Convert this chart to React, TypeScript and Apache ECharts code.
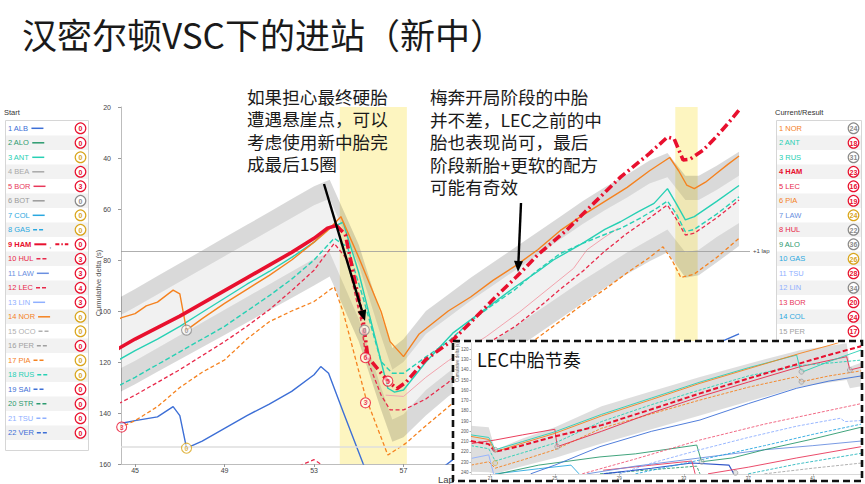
import React, { useEffect, useRef } from "react";
import * as echarts from "echarts";

// ---------- texts ----------
const titleText = "汉密尔顿VSC下的进站（新中）";
const noteLeft = ["如果担心最终硬胎", "遭遇悬崖点，可以", "考虑使用新中胎完", "成最后15圈"];
const noteRight = ["梅奔开局阶段的中胎", "并不差，LEC之前的中", "胎也表现尚可，最后", "阶段新胎+更软的配方", "可能有奇效"];
const insetTitle = "LEC中胎节奏";
const yAxisTitle = "Cumulative delta (s)";
const xAxisTitle = "Lap";

// ---------- axes ----------
const mainLapTicks = [45, 49, 53, 57, 61, 65, 69];
const insetLapTicks = [21, 25, 29, 33, 37, 41];
const insetDeltaTicks = [120, 130, 140, 150, 160, 170, 180, 190, 200, 210, 220, 230, 240];
const lapLines = [76.6, 153.2];
const insetLapLines = [153.2, 229.8];
const vscStart = [54.15, 69.15];
const vscEnd = [57.15, 70.15];

// ---------- legends ----------
const startCodes = ["ALB", "ALO", "ANT", "BEA", "BOR", "BOT", "COL", "GAS", "HAM", "HUL", "LAW", "LEC", "LIN", "NOR", "OCO", "PER", "PIA", "RUS", "SAI", "STR", "TSU", "VER"];
const startAges = [0, 0, 0, 0, 3, 0, 0, 0, 0, 3, 3, 4, 3, 0, 0, 0, 0, 0, 0, 0, 0, 0];
const startCompounds = ["S", "S", "M", "S", "S", "H", "M", "M", "S", "S", "S", "S", "S", "M", "M", "S", "M", "M", "S", "S", "S", "S"];
const resultCodes = ["NOR", "ANT", "RUS", "HAM", "LEC", "PIA", "LAW", "HUL", "ALO", "GAS", "TSU", "LIN", "BOR", "COL", "PER"];
const resultAges = [24, 18, 31, 23, 16, 19, 24, 22, 36, 26, 28, 34, 20, 24, 17];
const resultCompounds = ["H", "S", "H", "S", "S", "S", "M", "H", "H", "M", "S", "H", "S", "S", "S"];

const driverColor: Record<string, string> = {
  ALB: "#3d6fd6", ALO: "#2b9a6e", ANT: "#27d0b4", BEA: "#a8a8a8", BOR: "#e8385a", BOT: "#9a9a9a",
  COL: "#2aa8e0", GAS: "#2aa8e0", HAM: "#e8102e", HUL: "#e8294a", LAW: "#6a8fe0", LEC: "#e8294a",
  LIN: "#8fb0ff", NOR: "#f5821f", OCO: "#b0b0b0", PER: "#a0a0a0", PIA: "#f5821f", RUS: "#27d0b4",
  SAI: "#3d6fd6", STR: "#2b9a6e", TSU: "#8fb0ff", VER: "#3d6fd6",
};
const dashedDrivers = ["GAS", "HUL", "LEC", "OCO", "PER", "PIA", "RUS", "SAI", "STR", "TSU", "VER"];
const compoundColor: Record<string, string> = { S: "#e8102e", M: "#d9a51c", H: "#8a8a8a" };

// ---------- main chart data [lap, cumulative delta] ----------
const bandLaps = [44.37, 45, 46, 47, 48, 49, 50, 51, 52, 53, 53.7, 55, 56, 56.5, 57, 58, 59, 60, 61, 62, 63, 64, 65, 66, 67, 68, 68.8, 69.6, 70.2, 71, 72];
const bandOuterTop = [94.4, 91.4, 86.3, 81.3, 76.3, 71.2, 66.2, 61.2, 56.1, 51.1, 48.5, 74, 101.7, 114.5, 111, 100, 93.5, 87, 81, 75, 69, 63, 57, 51.5, 46.5, 41, 38, 47, 47, 43, 37.5];
const bandInnerTop = [101.6, 98.5, 93.5, 88.5, 83.5, 78.5, 73.5, 68.5, 63.5, 58.5, 56, 82, 110, 123, 120, 109, 102.5, 96, 90, 84, 78, 72, 66, 60.5, 55.5, 50, 47.5, 56.5, 56.5, 52.5, 47];
const bandInnerBottom = [122.4, 119.5, 114.5, 109.5, 104.5, 99.5, 94.5, 89.5, 84.5, 79.5, 77, 103, 130, 142.5, 140.5, 131, 124, 118, 112, 106, 100, 94, 88, 82.5, 77, 72, 68, 77, 76, 71, 65.5];
const bandOuterBottom = [131.6, 128.7, 123.8, 119, 114.2, 109.4, 104.5, 99.7, 94.9, 90, 86.5, 112, 138.8, 151.3, 149.5, 141, 133.5, 127, 121, 115, 109, 103, 97, 91, 85.5, 80.5, 77, 87, 86, 81, 74.5];

const hamActual = [[44, 116], [45, 111], [46, 106.5], [47, 102], [48, 97], [49, 92], [50, 87], [51, 82], [52, 77], [53, 71.5], [53.6, 67.5], [54, 66.5]];
const hamProjection = [[54, 66.5], [54.4, 70], [55.2, 104], [55.4, 118], [56.3, 127.5], [56.7, 130.5], [57.1, 128], [58, 119], [59.2, 111.4], [60, 104.5], [61, 95.5], [62.06, 86.5], [63, 78], [64.3, 68.2], [65.5, 57.8], [66.7, 47.5], [68, 38.2], [68.8, 31.8], [69.1, 32.5], [69.5, 40.8], [69.8, 40.5], [70.4, 36.9], [71, 31.5], [71.5, 26.5], [72, 21.2]];
const norDelta = [[44, 104.5], [44.4, 102.6], [45, 101], [45.5, 98], [46, 96.5], [46.7, 91.8], [47, 93.3], [47.3, 107.5], [48, 103], [49, 97], [50, 91.5], [51, 86], [52, 80], [53, 73], [53.6, 68.5], [54.2, 63], [55, 79], [56, 100.3], [56.4, 112], [57, 117.9], [57.7, 109], [59, 100], [60, 94.5], [61, 88], [62, 82.3], [63, 76], [64, 68.5], [65, 62.5], [66, 57], [67, 51.5], [68, 45], [68.9, 39.8], [69.3, 45], [69.66, 50.6], [70, 52], [70.5, 49.5], [71, 46], [71.5, 42.5], [72, 39.2]];
const antDelta = [[44, 120.5], [45, 115.5], [46, 111], [47, 106], [48, 100.5], [49, 95], [50, 89.5], [51, 84.5], [52, 79], [53, 73], [53.6, 68], [54.3, 65.2], [55, 85], [56, 119.9], [56.3, 130.3], [56.6, 131.8], [57, 131], [58, 120], [59.2, 108.7], [60, 103.5], [61, 97], [62, 90.5], [63, 84.5], [63.7, 80], [65, 73.5], [66, 68], [66.7, 65], [67.5, 61], [68.2, 57.8], [68.8, 52], [69.2, 58], [69.6, 64.3], [70, 63], [71, 57], [72, 50.8]];
const rusDelta = [[44, 130.5], [45, 126], [46, 121], [47, 116], [48, 111], [49, 106], [50, 100], [51, 94], [52, 87.5], [53, 80], [53.9, 71.5], [54.5, 75], [55.2, 95], [56, 119.9], [56.5, 124.4], [57, 124.4], [58, 118], [59, 112], [60, 104], [61, 97.5], [62, 91.5], [63, 84], [64, 77.5], [65, 73.5], [66, 70], [66.7, 67.6], [67.5, 64], [68.2, 60.4], [68.8, 56.9], [69.2, 62], [69.6, 68.9], [70, 68], [71, 62], [72, 55.2]];
const lecDelta = [[44, 137.5], [45, 133], [46, 128], [47, 123], [48, 117.5], [49, 112], [50, 106], [51, 99.5], [52, 92], [53, 84], [53.9, 73.5], [54.5, 80], [55.1, 104], [55.3, 117.3], [56, 133], [56.4, 138.8], [57, 138.8], [58, 134.5], [59, 128], [60, 119], [61, 111.4], [62, 106], [63, 99], [64, 91.5], [65, 84.5], [66, 76.5], [67, 69.5], [68, 63.5], [68.8, 58.4], [69.2, 64], [69.6, 70.2], [70, 69.5], [71, 63.5], [72, 56.5]];
const borDelta = [[56.2, 133], [57, 133.5], [58, 126], [59, 119.5], [60.7, 110], [62.2, 100.3], [64.6, 83.3], [65.2, 76], [66, 71], [66.6, 67.5]];
const piaDelta = [[44, 147], [44.4, 145.4], [45, 143], [46, 137.5], [47, 130], [48, 124], [49, 119.2], [50, 111], [51, 104.2], [52, 100], [53, 96.3], [53.9, 90.5], [54.3, 100.3], [55.3, 133.6], [56.3, 156.5], [57.1, 151.9], [58, 145], [59.1, 136.9], [60, 131], [61, 124], [62, 117], [63, 110.5], [64, 104], [65, 97.5], [66, 91.5], [67, 85], [68, 79], [68.6, 74.8], [69, 80], [69.4, 86.9], [70, 85.5], [71, 79], [72, 71.5]];
const albDelta = [[44, 145], [44.4, 144], [45, 143], [46, 141.5], [46.7, 137.5], [47, 141], [47.3, 153.8], [48, 151], [49, 146], [50, 141], [51, 136.5], [52, 131.5], [53, 125], [53.3, 121.8], [53.65, 124.4], [54.3, 139.5], [55.2, 160], [56, 175], [57.5, 170], [59.1, 159], [61, 148], [63, 139], [65, 131], [67, 124], [69, 118], [70.9, 112.7], [71.2, 112], [72, 109]];
const hulDelta = [[51.5, 163], [52.4, 160.5], [53, 158.3], [53.3, 160], [53.6, 164]];

const stopLaps = [44.4, 47.3, 47.3, 55.25, 55.3, 56.3, 55.3];
const stopDeltas = [145.5, 107.5, 153.8, 107.5, 118.3, 127.5, 136];
const stopAges = [3, 0, 0, 0, 6, 5, 3];
const stopCompounds = ["S", "H", "M", "H", "S", "S", "S"];

// ---------- inset data ----------
const insetBandLaps = [19.8, 20.9, 21.3, 23, 25, 27.9, 31, 34, 37, 40.2, 43.1, 43.3, 44];
const insetBandTop = [194.5, 196, 218, 207, 196, 175.5, 161, 147, 134, 121, 114, 137, 133];
const insetBandBottom = [239.5, 240, 241.5, 234, 226, 212, 198, 184.5, 171, 156.5, 150, 158, 156];

const inNor = [[19.8, 205], [20.9, 208], [21.3, 220], [23, 211.5], [25, 202], [27.9, 185], [31, 169], [34, 153.2], [37, 139], [40.2, 124], [42.3, 115], [42.6, 113.5]];
const inAnt = [[19.8, 203.5], [20.9, 206], [21.3, 218], [23, 210], [25, 200.5], [27.9, 183.5], [31, 167.5], [34, 152], [37, 138], [40, 125.6], [40.2, 138.5], [40.4, 141.8], [42, 132], [44, 120.7]];
const inRus = [[19.8, 214], [20.9, 217], [21.3, 229], [23, 221], [25, 211.5], [27.9, 190.5], [31, 174], [34, 159.7], [37, 146], [40, 136], [42, 133.5], [44, 130.5]];
const inHam = [[19.8, 209.5], [20.9, 212.5], [21.3, 220], [22.8, 214.5], [25, 205], [27.9, 194], [31, 178.5], [34, 163], [37, 148.5], [40.2, 133.7], [42, 125.5], [44, 117]];
const inLec = [[19.8, 212], [21.3, 208.5], [23, 203.5], [25, 198], [25.15, 215], [27.9, 200], [31, 182], [34, 166.2], [37, 152], [40.2, 137], [43.1, 127.2], [43.3, 140.2], [44, 137.5]];
const inPia = [[19.8, 233], [20.9, 229.7], [21.3, 236], [23, 228], [25, 218], [27.9, 197], [31, 183], [34, 169.5], [37, 157], [40, 146.7], [40.3, 151.6], [42, 146], [44, 141]];
const inAlb = [[23.5, 241.5], [25, 233], [27.8, 215], [31, 200], [34, 189], [37, 173], [40, 158], [42, 151], [44, 146]];
const inHul = [[26.7, 241.5], [30, 227], [34, 208.5], [38, 193], [41, 183], [44, 173]];
const inTsu = [[29, 241.5], [31, 231], [34, 218], [37, 206], [40, 195], [42.7, 187.3], [43, 190.5], [44, 189.5]];
const inGas = [[30, 241.5], [34, 228], [38, 214], [41, 203], [44, 193]];
const inAlo = [[21.5, 241.5], [24, 233], [27.8, 225], [30, 222], [33.8, 213.4], [34.1, 229.7], [36, 226], [38, 218], [41, 207.5], [44, 196]];
const inLaw = [[27, 241.5], [30, 234], [34, 226], [38, 218], [41, 214], [44, 209.5]];
const inBorLow = [[34.5, 241.5], [37, 235], [40, 226], [44, 215]];
const inBor = [[28, 238], [31, 233], [33.5, 229], [33.7, 241.5]];
const inPer = [[38, 241.5], [41, 236], [44, 231]];
const inRusLow = [[37, 241.5], [40, 232], [44, 221.5]];
const inSai = [[28, 241.5], [31, 236], [33.5, 231], [35.8, 233], [36.1, 241.5]];
const inLin = [[19.8, 226.5], [20.9, 223], [21.2, 241.5]];
const inCol = [[21.3, 241.5], [24, 236.5], [26, 233], [26.5, 241.5]];
const inStr = [[27.8, 241.5], [31, 237.5], [33.8, 234], [34, 241.5]];

const inStopLaps = [21.3, 21.3, 25.15, 34.1, 40.3, 40.3, 43.3, 36.2];
const inStopDeltas = [218, 231, 215, 229.7, 141.8, 151.6, 140.2, 240.5];
const inStopCompounds = ["H", "M", "H", "H", "H", "H", "H", "H"];

const LAT = '"Liberation Sans", Arial, sans-serif';
const CJK = '"Noto Sans CJK SC", "Noto Sans", sans-serif';

function bandSeries(xs: number[], top: number[], bot: number[], fill: string, z: number, gi: number) {
  return {
    type: "custom",
    xAxisIndex: gi,
    yAxisIndex: gi,
    z,
    silent: true,
    data: xs.map((x, i) => [x, top[i], bot[i]]),
    encode: { x: 0, y: [1, 2] },
    renderItem: (params: any, api: any) => {
      if (params.dataIndex !== 0) return null;
      const pts: number[][] = xs.map((x, i) => api.coord([x, top[i]]));
      for (let i = xs.length - 1; i >= 0; i--) pts.push(api.coord([xs[i], bot[i]]));
      return { type: "polygon", shape: { points: pts }, style: { fill } };
    },
  };
}

function lineSeries(data: number[][], color: string, width: number, type: any, z: number, gi = 0) {
  return {
    type: "line",
    xAxisIndex: gi,
    yAxisIndex: gi,
    data,
    z,
    silent: true,
    symbol: "none",
    showSymbol: false,
    lineStyle: { color, width, type },
  };
}

export default function App() {
  const ref = useRef<HTMLDivElement>(null);

  useEffect(() => {
    if (!ref.current) return;
    const chart = echarts.init(ref.current, undefined, { renderer: "svg" });

    const canvas = document.createElement("canvas");
    const ctx = canvas.getContext("2d") as CanvasRenderingContext2D;
    const tw = (t: string, font: string) => {
      ctx.font = font;
      return ctx.measureText(t).width;
    };

    const g: any[] = [];
    const text = (x: number, y: number, t: string, font: string, fill: string, z = 50, align = "left", rotation = 0) => ({
      type: "text",
      x,
      y,
      z,
      rotation,
      silent: true,
      style: { text: t, font, fill, textAlign: align, textVerticalAlign: "middle", verticalAlign: "middle" },
    });

    // title and notes
    g.push(text(22, 33, titleText, `35px ${CJK}`, "#1a1a1a"));
    noteLeft.forEach((t, i) => g.push(text(247, 96 + i * 22.5, t, `17.6px ${CJK}`, "#1a1a1a", 55)));
    noteRight.forEach((t, i) => g.push(text(430, 96.5 + i * 22.6, t, `17.6px ${CJK}`, "#1a1a1a", 55)));

    // axis titles
    g.push(text(98, 283, yAxisTitle, `7.5px ${LAT}`, "#555", 5, "center", Math.PI / 2));
    g.push(text(438, 479, xAxisTitle, `9.5px ${LAT}`, "#444", 5));

    // arrows
    const arrow = (x1: number, y1: number, x2: number, y2: number) => {
      const a = Math.atan2(y2 - y1, x2 - x1);
      const L = 11, W = 4.5;
      const bx = x2 - L * Math.cos(a), by = y2 - L * Math.sin(a);
      const px = -Math.sin(a) * W, py = Math.cos(a) * W;
      g.push({ type: "line", z: 55, silent: true, shape: { x1, y1, x2: bx, y2: by }, style: { stroke: "#000", lineWidth: 2.4 } });
      g.push({ type: "polygon", z: 55, silent: true, shape: { points: [[x2, y2], [bx + px, by + py], [bx - px, by - py]] }, style: { fill: "#000" } });
    };
    arrow(324, 184, 365, 321);
    arrow(521, 203, 518, 272);

    // legends
    const rowH = 14.5;
    const drawLegend = (x0: number, w: number, header: string, codes: string[], ages: number[], comps: string[], withSample: boolean) => {
      g.push(text(x0 - 1, 112, header, `7.5px ${LAT}`, "#333", 5));
      g.push({ type: "rect", z: 1, silent: true, shape: { x: x0 + 0.5, y: 120.5, width: w, height: 330 }, style: { fill: "#fff", stroke: "#d6d6d6", lineWidth: 1 } });
      codes.forEach((code, i) => {
        const cy = 128.3 + i * rowH;
        if (i % 2 === 1) {
          g.push({ type: "rect", z: 2, silent: true, shape: { x: x0 + 1, y: cy - rowH / 2, width: w - 1, height: rowH }, style: { fill: "#f2f2f2" } });
        }
        const bold = code === "HAM";
        const font = `${bold ? "bold " : ""}7.5px ${LAT}`;
        const label = `${i + 1} ${code}`;
        const col = driverColor[code];
        g.push(text(x0 + 3, cy, label, font, col, 6));
        if (withSample) {
          const sx = x0 + 3 + tw(label, font) + 3;
          const dashed = dashedDrivers.includes(code);
          g.push({ type: "line", z: 6, silent: true, shape: { x1: sx, y1: cy, x2: sx + 12, y2: cy }, style: { stroke: col, lineWidth: bold ? 2 : 1.5, lineDash: dashed ? [4, 2] : null } });
          if (bold) {
            g.push(text(sx + 15, cy + 1, ",", `7.5px ${LAT}`, "#555", 6));
            g.push({ type: "line", z: 6, silent: true, shape: { x1: sx + 21, y1: cy, x2: sx + 34, y2: cy }, style: { stroke: col, lineWidth: 2, lineDash: [4, 2, 1.5, 2] } });
          }
        }
        const cc = compoundColor[comps[i]];
        const cx = x0 + w - 7.5;
        g.push({ type: "circle", z: 6, silent: true, shape: { cx, cy, r: 5.3 }, style: { fill: "#fff", stroke: cc, lineWidth: 1.2 } });
        g.push(text(cx, cy + 0.3, String(ages[i]), `bold 7px ${LAT}`, cc, 7, "center"));
      });
    };
    drawLegend(5, 83, "Start", startCodes, startAges, startCompounds, true);
    drawLegend(776, 85, "Current/Result", resultCodes, resultAges, resultCompounds, false);

    // inset frame
    g.push({ type: "rect", z: 40, silent: true, shape: { x: 453, y: 341, width: 409, height: 140 }, style: { fill: "#fff" } });
    g.push({ type: "rect", z: 60, silent: true, shape: { x: 453, y: 341, width: 409, height: 140 }, style: { fill: "none", stroke: "#111", lineWidth: 2.6, lineDash: [7, 4] } });
    g.push(text(477, 359, insetTitle, `18px ${CJK}`, "#111", 60));
    g.push(text(457.5, 362, yAxisTitle, `4.5px ${LAT}`, "#666", 48, "center", Math.PI / 2));

    const mainStops = stopLaps.map((x, i) => ({
      value: [x, stopDeltas[i]],
      itemStyle: { borderColor: compoundColor[stopCompounds[i]] },
      label: { color: compoundColor[stopCompounds[i]], formatter: String(stopAges[i]) },
    }));
    const insetStops = inStopLaps.map((x, i) => ({
      value: [x, inStopDeltas[i]],
      itemStyle: { borderColor: compoundColor[inStopCompounds[i]] },
    }));

    const axisCommon = {
      axisLine: { show: true, lineStyle: { color: "#bdbdbd", width: 1 } },
      splitLine: { show: false },
    };

    const option: any = {
      animation: false,
      backgroundColor: "#fff",
      textStyle: { fontFamily: LAT },
      grid: [
        { left: 121, top: 107, width: 629, height: 357 },
        { left: 471, top: 343, width: 390.5, height: 131 },
      ],
      xAxis: [
        {
          type: "value", gridIndex: 0, min: 44.37, max: 72.49, ...axisCommon,
          axisTick: { show: true, length: 3, customValues: mainLapTicks, lineStyle: { color: "#999" } },
          axisLabel: { customValues: mainLapTicks, fontSize: 7, color: "#444", margin: 3 },
        },
        {
          type: "value", gridIndex: 1, min: 19.8, max: 44.02, z: 45, ...axisCommon,
          axisLine: { show: true, lineStyle: { color: "#cfcfcf", width: 0.8 } },
          axisTick: { show: true, length: 1.5, customValues: insetLapTicks, lineStyle: { color: "#aaa" } },
          axisLabel: { customValues: insetLapTicks, fontSize: 4.5, color: "#555", margin: 2 },
        },
      ],
      yAxis: [
        {
          type: "value", gridIndex: 0, inverse: true, min: 20, max: 160, interval: 20, ...axisCommon,
          axisTick: { show: true, length: 3, lineStyle: { color: "#999" } },
          axisLabel: { fontSize: 7, color: "#444", margin: 10 },
        },
        {
          type: "value", gridIndex: 1, inverse: true, min: 113.85, max: 241.66, z: 45, ...axisCommon,
          axisLine: { show: true, lineStyle: { color: "#cfcfcf", width: 0.8 } },
          axisTick: { show: true, length: 1.5, customValues: insetDeltaTicks, lineStyle: { color: "#aaa" } },
          axisLabel: { customValues: insetDeltaTicks, fontSize: 4.5, color: "#555", margin: 2.5 },
        },
      ],
      graphic: { elements: g },
      series: [
        {
          type: "line", xAxisIndex: 0, yAxisIndex: 0, z: 1, silent: true, symbol: "none",
          data: [[44.37, 20]], lineStyle: { width: 0, opacity: 0 },
          markArea: {
            silent: true,
            itemStyle: { color: "#fdf5c0" },
            label: { show: false },
            data: vscStart.map((s, i) => [{ xAxis: s }, { xAxis: vscEnd[i] }]),
          },
        },
        bandSeries(bandLaps, bandOuterTop, bandInnerTop, "rgba(0,0,0,0.15)", 2, 0),
        bandSeries(bandLaps, bandInnerTop, bandInnerBottom, "rgba(0,0,0,0.055)", 2, 0),
        bandSeries(bandLaps, bandInnerBottom, bandOuterBottom, "rgba(0,0,0,0.15)", 2, 0),
        {
          type: "line", xAxisIndex: 0, yAxisIndex: 0, z: 3, silent: true, symbol: "none",
          data: [[44.37, 20]], lineStyle: { width: 0, opacity: 0 },
          markLine: {
            silent: true,
            symbol: ["none", "none"],
            label: { show: false },
            data: [
              { yAxis: lapLines[0], lineStyle: { color: "#9a9a9a", width: 0.8, type: "solid" }, label: { show: true, position: "end", formatter: "+1 lap", fontSize: 6, color: "#444", distance: 3 } },
              { yAxis: lapLines[1], lineStyle: { color: "#dedede", width: 1.6, type: "solid" } },
            ],
          },
        },
        lineSeries(albDelta, driverColor.ALB, 1.4, "solid", 4),
        lineSeries(hulDelta, driverColor.HUL, 1.2, [4, 2.5], 4),
        lineSeries(piaDelta, driverColor.PIA, 1.3, [4, 2.5], 4),
        lineSeries(borDelta, "#f2a3ad", 1, "solid", 4),
        lineSeries(lecDelta, driverColor.LEC, 1.3, [4, 2.5], 5),
        lineSeries(rusDelta, driverColor.RUS, 1.4, [5, 2.5], 5),
        lineSeries(antDelta, driverColor.ANT, 1.4, "solid", 6),
        lineSeries(norDelta, driverColor.NOR, 1.4, "solid", 6),
        lineSeries(hamActual, driverColor.HAM, 3.6, "solid", 7),
        lineSeries(hamProjection, driverColor.HAM, 3.6, [9, 3.5, 2, 3.5], 7),
        {
          type: "scatter", xAxisIndex: 0, yAxisIndex: 0, z: 10, silent: true,
          symbol: "circle", symbolSize: 10,
          itemStyle: { color: "rgba(255,255,255,0.75)", borderWidth: 1.1 },
          label: { show: true, position: "inside", fontSize: 7, fontWeight: "bold" },
          data: mainStops,
        },
        // inset
        bandSeries(insetBandLaps, insetBandTop, insetBandBottom, "rgba(0,0,0,0.13)", 42, 1),
        {
          type: "line", xAxisIndex: 1, yAxisIndex: 1, z: 42, silent: true, symbol: "none",
          data: [[19.8, 120]], lineStyle: { width: 0, opacity: 0 },
          markLine: {
            silent: true, symbol: ["none", "none"], label: { show: false },
            lineStyle: { color: "#d8d8d8", width: 1, type: "solid" },
            data: insetLapLines.map((v) => ({ yAxis: v })),
          },
        },
        lineSeries(inStr, driverColor.STR, 0.9, [3, 1.5], 43, 1),
        lineSeries(inCol, driverColor.COL, 0.9, "solid", 43, 1),
        lineSeries(inLin, driverColor.LIN, 0.9, "solid", 43, 1),
        lineSeries(inSai, "#2f55c8", 1.1, "solid", 43, 1),
        lineSeries(inRusLow, "#2cb8c0", 0.9, [3, 1.5], 43, 1),
        lineSeries(inPer, "#a8a8a8", 0.9, [3, 1.5], 43, 1),
        lineSeries(inBor, driverColor.BOR, 0.9, "solid", 43, 1),
        lineSeries(inBorLow, driverColor.BOR, 0.9, "solid", 43, 1),
        lineSeries(inLaw, driverColor.LAW, 0.9, "solid", 43, 1),
        lineSeries(inAlo, driverColor.ALO, 0.9, "solid", 43, 1),
        lineSeries(inGas, driverColor.GAS, 0.9, [3, 1.5], 43, 1),
        lineSeries(inTsu, driverColor.TSU, 0.9, [3, 1.5], 43, 1),
        lineSeries(inHul, "#ef5a78", 0.9, [3, 1.5], 43, 1),
        lineSeries(inAlb, driverColor.ALB, 0.9, "solid", 43, 1),
        lineSeries(inPia, driverColor.PIA, 0.9, [3, 1.5], 44, 1),
        lineSeries(inLec, driverColor.LEC, 0.9, "solid", 44, 1),
        lineSeries(inRus, driverColor.RUS, 0.9, [3, 1.5], 44, 1),
        lineSeries(inAnt, driverColor.ANT, 0.9, "solid", 45, 1),
        lineSeries(inNor, driverColor.NOR, 0.9, "solid", 45, 1),
        lineSeries(inHam, driverColor.HAM, 2, [5, 2.5], 46, 1),
        {
          type: "scatter", xAxisIndex: 1, yAxisIndex: 1, z: 47, silent: true,
          symbol: "circle", symbolSize: 5,
          itemStyle: { color: "rgba(200,200,200,0.6)", borderWidth: 0.7 },
          data: insetStops,
        },
      ],
    };

    chart.setOption(option);
    return () => chart.dispose();
  }, []);

  return <div ref={ref} style={{ position: "absolute", left: 0, top: 0, width: 865, height: 484, background: "#fff" }} />;
}
